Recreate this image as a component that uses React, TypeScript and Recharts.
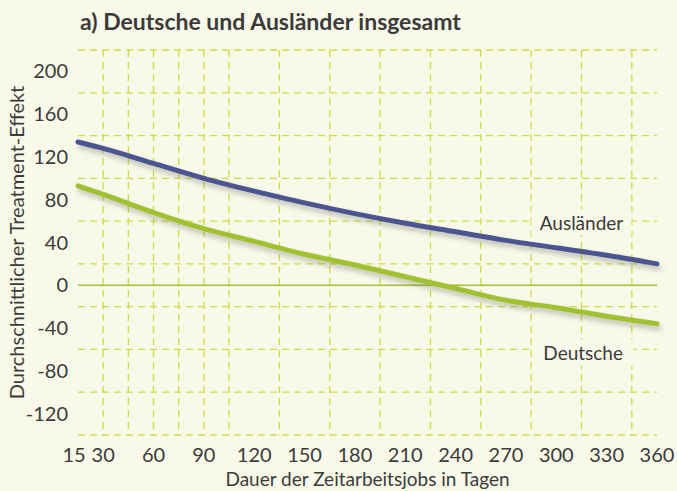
import {
  LineChart,
  Line,
  XAxis,
  YAxis,
  CartesianGrid,
  ReferenceLine,
  ReferenceDot,
} from "recharts";

const days = [15, 30, 60, 90, 120, 150, 180, 210, 240, 270, 300, 330, 360];
const auslaender = [134, 128, 114, 100, 88, 77, 67, 58, 50, 42, 35, 28, 20];
const deutsche = [93, 85, 68, 53, 41, 29, 19, 8, -3, -14, -21, -29, -36];

const xTicks = [15, 30, 60, 90, 120, 150, 180, 210, 240, 270, 300, 330, 360];
const yTicks = [200, 160, 120, 80, 40, 0, -40, -80, -120];
const gridX = [30, 45, 60, 75, 90, 105, 120, 135, 150, 165, 180, 195, 210, 225, 240, 255, 270, 285, 300, 315, 330, 345];
const gridY = [220, 200, 180, 160, 140, 120, 100, 80, 60, 40, 20, -20, -40, -60, -80, -100, -120, -140];

const data = days.map((d, i) => ({
  day: d,
  auslaender: auslaender[i],
  deutsche: deutsche[i],
}));

const BG = "#f8f9e8";
const TEXT = "#3b3b3b";
const GRID = "#cbdd45";
const BLUE = "#4c5691";
const GREEN = "#a2c133";
const FONT = "Lato, 'Open Sans', sans-serif";

function SeriesLabel(props: any) {
  const { viewBox, text, w } = props;
  const cx = viewBox.x;
  const cy = viewBox.y;
  return (
    <g>
      <rect x={cx - w / 2} y={cy - 13} width={w} height={26} fill={BG} />
      <text
        x={cx}
        y={cy}
        textAnchor="middle"
        dominantBaseline="central"
        fontSize={19}
        fontFamily={FONT}
        fill={TEXT}
      >
        {text}
      </text>
    </g>
  );
}

function YTitle(props: any) {
  const { viewBox } = props;
  const cx = viewBox.x + 16;
  const cy = viewBox.y + viewBox.height / 2;
  return (
    <text
      x={cx}
      y={cy}
      transform={`rotate(-90 ${cx} ${cy})`}
      textAnchor="middle"
      dominantBaseline="central"
      fontSize={20}
      fontFamily={FONT}
      fill={TEXT}
    >
      Durchschnittlicher Treatment-Effekt
    </text>
  );
}

// the first label is nudged left so "15" and "30" do not run together
function XTick(props: any) {
  const { x, y, payload } = props;
  const shift = payload.value === 15 ? -4 : 0;
  return (
    <text
      x={x + shift}
      y={y}
      dy="0.71em"
      textAnchor="middle"
      fontSize={20}
      fontFamily={FONT}
      fill={TEXT}
    >
      {payload.value}
    </text>
  );
}

export default function App() {
  return (
    <div
      style={{
        position: "absolute",
        left: 0,
        top: 0,
        width: 677,
        height: 491,
        background: BG,
        fontFamily: FONT,
      }}
    >
      <div
        style={{
          position: "absolute",
          left: 80,
          top: 10,
          fontSize: 23,
          lineHeight: "23px",
          fontWeight: 700,
          color: TEXT,
        }}
      >
        a) Deutsche und Ausländer insgesamt
      </div>
      <LineChart
        width={677}
        height={491}
        data={data}
        margin={{ top: 50, right: 20, bottom: 0, left: 0 }}
      >
        <defs>
          <filter id="shadow" x="-10%" y="-10%" width="130%" height="160%">
            <feDropShadow dx="2" dy="4" stdDeviation="2.5" floodColor="#555" floodOpacity="0.35" />
          </filter>
        </defs>
        <CartesianGrid
          stroke={GRID}
          strokeDasharray="7 5"
          strokeWidth={1.3}
          verticalValues={gridX}
          horizontalValues={gridY}
        />
        <XAxis
          dataKey="day"
          type="number"
          domain={[15, 360]}
          ticks={xTicks}
          axisLine={false}
          tickLine={false}
          tickMargin={7}
          height={56}
          tick={(p: any) => <XTick {...p} />}
          label={{
            value: "Dauer der Zeitarbeitsjobs in Tagen",
            position: "insideBottom",
            offset: 5,
            fontSize: 19,
            fill: TEXT,
            fontFamily: FONT,
          }}
        />
        <YAxis
          type="number"
          domain={[-140, 220]}
          ticks={yTicks}
          width={78}
          axisLine={false}
          tickLine={false}
          tickMargin={4}
          tick={{ fontSize: 20, fill: TEXT, fontFamily: FONT }}
          label={{ content: (p: any) => <YTitle {...p} /> }}
        />
        <ReferenceLine y={0} stroke={GREEN} strokeWidth={1.5} />
        <ReferenceDot
          x={315}
          y={59}
          r={0}
          fill="none"
          stroke="none"
          label={(p: any) => <SeriesLabel {...p} text="Ausländer" w={100} />}
        />
        <ReferenceDot
          x={316}
          y={-63}
          r={0}
          fill="none"
          stroke="none"
          label={(p: any) => <SeriesLabel {...p} text="Deutsche" w={100} />}
        />
        <Line
          type="monotone"
          dataKey="auslaender"
          stroke={BLUE}
          strokeWidth={5}
          strokeLinecap="round"
          dot={false}
          filter="url(#shadow)"
          isAnimationActive={false}
        />
        <Line
          type="monotone"
          dataKey="deutsche"
          stroke={GREEN}
          strokeWidth={5}
          strokeLinecap="round"
          dot={false}
          filter="url(#shadow)"
          isAnimationActive={false}
        />
      </LineChart>
    </div>
  );
}
